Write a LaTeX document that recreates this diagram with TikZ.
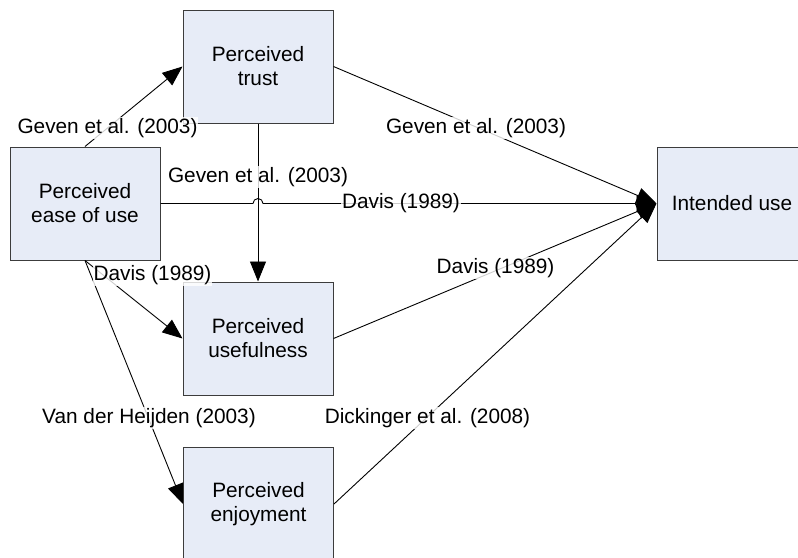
\documentclass[tikz,border=0pt]{standalone}
\usepackage{fontspec}
\setmainfont{Liberation Sans}
\usetikzlibrary{arrows.meta}
\definecolor{boxfill}{RGB}{231,236,247}
\definecolor{boxline}{RGB}{60,60,60}
\begin{document}
\begin{tikzpicture}[x=0.5pt,y=-0.5pt,
  every node/.style={font=\fontsize{10.4}{12}\selectfont},
  construct/.style={draw=boxline, line width=0.5pt, fill=boxfill, minimum width=75pt, minimum height=56.5pt, inner sep=0pt, align=center},
  lbl/.style={fill=white, fill opacity=0.8, text opacity=1, inner sep=0.5pt},
  link/.style={draw=black, line width=0.45pt, -{Triangle[length=10pt,width=8pt]}},
  plain/.style={draw=black, line width=0.45pt}]
\useasboundingbox (0,0) rectangle (798,557);
\clip (0,0) rectangle (798,557);
\node[construct] (trust) at (258,66.5) {Perceived\\trust};
\node[construct] (ease) at (85,203.5) {Perceived\\ease of use};
\node[construct] (useful) at (258,338.5) {Perceived\\usefulness};
\node[construct] (enjoy) at (258.5,504) {Perceived\\enjoyment};
\node[construct] (intended) at (732,203.5) {Intended use};

\draw[link] (ease.north) -- (trust.west);
\draw[link] (trust.east) -- (intended.west);
\draw[link] (trust.south) -- (useful.north);
\draw[link] (ease.east) -- ([xshift=-2.5pt]ease.east -| trust.south) arc[start angle=180, end angle=0, radius=2.5pt] -- (intended.west);
\draw[link] (ease.south) -- (useful.west);
\draw[link] (ease.south) -- (enjoy.west);
\draw[link] (useful.east) -- (intended.west);
\draw[link] (enjoy.east) -- (intended.west);

\node[lbl] (g1) at (107.5,128) {Geven et al. (2003)};
\node[lbl] (g2) at (258,177) {Geven et al. (2003)};
\node[lbl] (g3) at (476,128) {Geven et al. (2003)};
\node[lbl] (d1) at (401,203.5) {Davis (1989)};
\node[lbl] (d2) at (152.5,275) {Davis (1989)};
\node[lbl] (d3) at (495.5,268) {Davis (1989)};
\node[lbl] (vh) at (149,418) {Van der Heijden (2003)};
\node[lbl] (dk) at (427.5,418) {Dickinger et al. (2008)};
\end{tikzpicture}
\end{document}
